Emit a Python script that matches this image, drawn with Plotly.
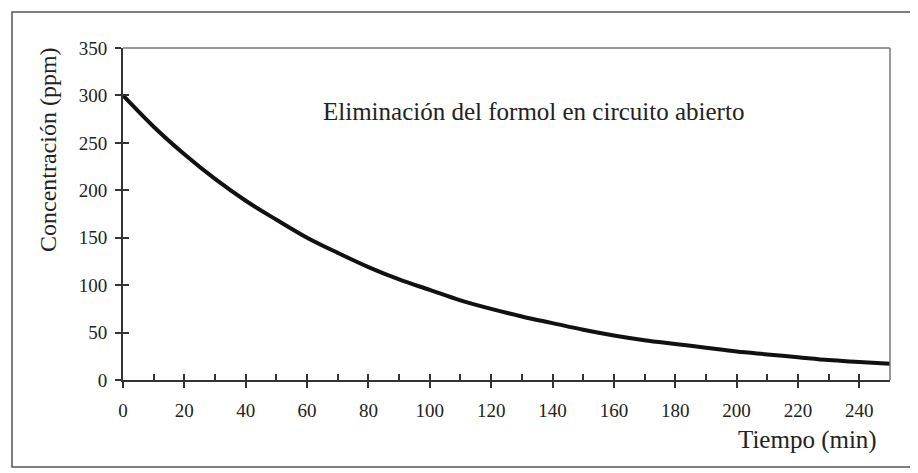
import plotly.graph_objects as go

tiempo = [0, 10, 20, 30, 40, 50, 60, 70, 80, 90, 100, 110, 120, 130, 140, 150,
          160, 170, 180, 190, 200, 210, 220, 230, 240, 250]
concentracion = [300, 267, 238, 212, 189, 169, 150, 134, 119, 106, 95, 84, 75, 67,
                 60, 53, 47, 42, 38, 34, 30, 27, 24, 21, 19, 17]
x_ticks = [0, 20, 40, 60, 80, 100, 120, 140, 160, 180, 200, 220, 240]
y_ticks = [0, 50, 100, 150, 200, 250, 300, 350]

FONT = "Liberation Serif, Times New Roman, serif"

# page body adds an 8px offset; plot area in reference: x 123..890, y 48..380
OFF = 8
W, H = 918 - OFF, 473 - OFF
L, R, T, B = 123, 890, 48, 380
PW, PH = R - L, B - T


def px(x):
    return (x - L) / PW


def py(y):
    return (B - y) / PH


fig = go.Figure()
fig.add_trace(go.Scatter(x=tiempo, y=concentracion, mode="lines",
                         line=dict(color="#111111", width=4, shape="spline"),
                         showlegend=False, cliponaxis=False))

fig.update_layout(
    width=W, height=H,
    margin=dict(l=L - OFF, r=W - (R - OFF), t=T - OFF, b=H - (B - OFF), pad=0),
    paper_bgcolor="white", plot_bgcolor="white",
    font=dict(family=FONT, size=19, color="#222222"),
    xaxis=dict(range=[0, 250], tickvals=x_ticks, ticks="outside", ticklen=6,
               tickcolor="#333333", tickwidth=1.5, showgrid=False, zeroline=False,
               showline=True, linecolor="#333333", linewidth=2,
               tickfont=dict(size=19), ticklabelstandoff=6),
    xaxis2=dict(range=[0, 250], tickmode="linear", tick0=0, dtick=10,
                ticks="inside", ticklen=6, tickcolor="#333333", tickwidth=1.5,
                showticklabels=False, showgrid=False, zeroline=False,
                overlaying="x", side="bottom", anchor="y"),
    yaxis=dict(range=[0, 350], tickvals=y_ticks, ticks="outside", ticklen=6,
               tickcolor="#333333", tickwidth=1.5, showgrid=False, zeroline=False,
               showline=True, linecolor="#333333", linewidth=2,
               tickfont=dict(size=19), ticklabelstandoff=4),
    yaxis2=dict(range=[0, 350], tickvals=y_ticks, ticks="inside", ticklen=6,
                tickcolor="#333333", tickwidth=1.5, showticklabels=False,
                showgrid=False, zeroline=False, overlaying="y", side="left",
                anchor="x"),
)
fig.add_trace(go.Scatter(x=[0], y=[0], xaxis="x2", yaxis="y2", mode="markers",
                         marker=dict(opacity=0), showlegend=False, hoverinfo="skip"))

# top and right frame lines of plot area
fig.add_shape(type="line", xref="paper", yref="paper", x0=0, x1=1, y0=1, y1=1,
              line=dict(color="#333333", width=1))
fig.add_shape(type="line", xref="paper", yref="paper", x0=1, x1=1, y0=0, y1=1,
              line=dict(color="#777777", width=1.5))
# outer border
fig.add_shape(type="rect", xref="paper", yref="paper",
              x0=px(12), x1=px(912), y0=py(467), y1=py(12),
              line=dict(color="#555555", width=1.5))

fig.add_annotation(text="Concentración (ppm)", xref="paper", yref="paper",
                   x=px(48), y=py(150), xanchor="center", yanchor="middle",
                   textangle=-90, showarrow=False,
                   font=dict(size=24, color="#222222"))
fig.add_annotation(text="Eliminación del formol en circuito abierto",
                   xref="paper", yref="paper", x=px(533), y=py(112),
                   xanchor="center", yanchor="middle",
                   showarrow=False, font=dict(size=25, color="#222222"))
fig.add_annotation(text="Tiempo (min)", xref="paper", yref="paper",
                   x=px(736), y=py(440), xanchor="left", yanchor="middle",
                   showarrow=False, font=dict(size=25, color="#222222"))

fig.write_html("out.html")
